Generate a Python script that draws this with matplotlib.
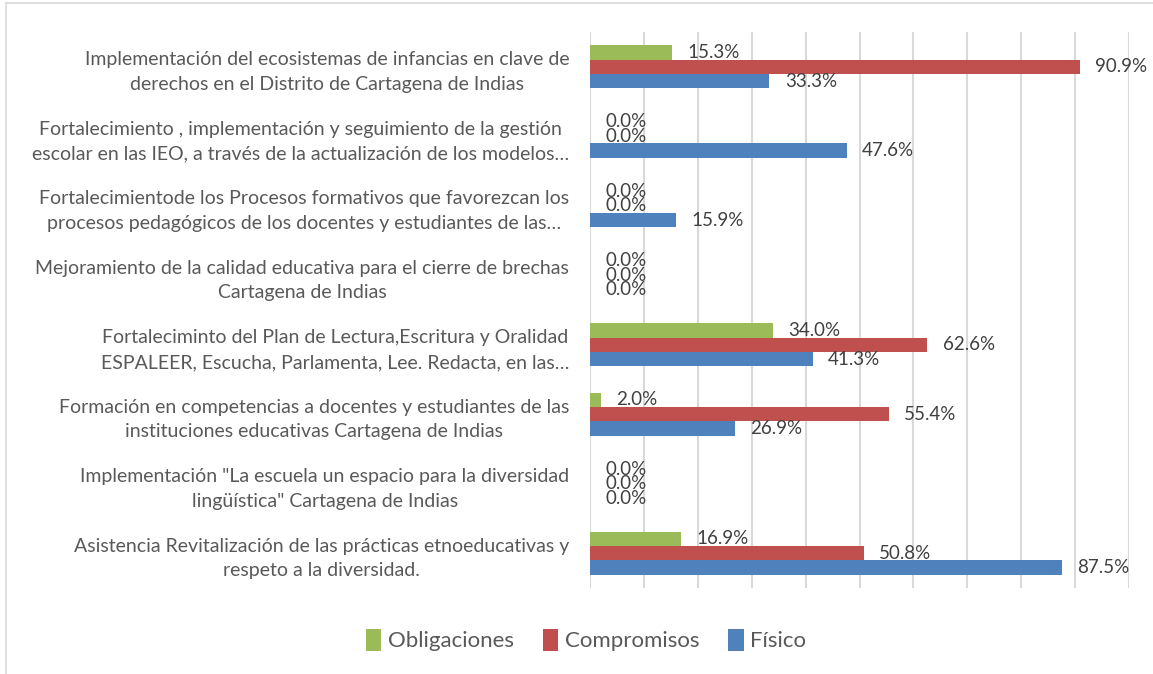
import numpy as np
import matplotlib.pyplot as plt
from matplotlib.patches import Rectangle

plt.rcParams['font.family'] = ['Lato', 'DejaVu Sans']

categories = [
    "Implementación del ecosistemas de infancias en clave de\nderechos en el Distrito de Cartagena de Indias",
    "Fortalecimiento , implementación y seguimiento de la gestión\nescolar en las IEO, a través de la actualización de los modelos…",
    "Fortalecimientode los Procesos formativos que favorezcan los\nprocesos pedagógicos de los docentes y estudiantes de las…",
    "Mejoramiento de la calidad educativa para el cierre de brechas\nCartagena de Indias",
    "Fortalecimînto del Plan de Lectura,Escritura y Oralidad\nESPALEER, Escucha, Parlamenta, Lee. Redacta, en las…".replace("î", "i"),
    "Formación en competencias a docentes y estudiantes de las\ninstituciones educativas Cartagena de Indias",
    "Implementación \"La escuela un espacio para la diversidad\nlingüística\" Cartagena de Indias",
    "Asistencia Revitalización de las prácticas etnoeducativas y\nrespeto a la diversidad.",
]
obligaciones = [0.153, 0.0, 0.0, 0.0, 0.340, 0.020, 0.0, 0.169]
compromisos = [0.909, 0.0, 0.0, 0.0, 0.626, 0.554, 0.0, 0.508]
fisico = [0.333, 0.476, 0.159, 0.0, 0.413, 0.269, 0.0, 0.875]

series = [
    ("Obligaciones", obligaciones, "#9BBB59"),
    ("Compromisos", compromisos, "#C0504D"),
    ("Físico", fisico, "#4F81BD"),
]

fig = plt.figure(figsize=(11.53, 6.74), dpi=100)
ax = fig.add_axes([590 / 1153, 1 - 588 / 674, 539 / 1153, 556 / 674])

# light outer frame of the chart area
fig.patches.append(Rectangle((6 / 1153, -0.05), 1.2, 1 - 3 / 674 + 0.05,
                             transform=fig.transFigure, fill=False,
                             edgecolor="#D9D9D9", linewidth=1.2))

y = np.arange(len(categories))
h = 0.208
offsets = [-h, 0, h]
for (name, vals, color), off in zip(series, offsets):
    bars = ax.barh(y + off, vals, height=h, color=color, label=name)
    for b, v in zip(bars, vals):
        ax.annotate(f"{v * 100:.1f}%", (b.get_width(), b.get_y() + b.get_height() / 2),
                    xytext=(11, 0), textcoords="offset points",
                    va="center", ha="left", fontsize=13.5, color="#404040")

ax.set_xlim(0, 1.0)
ax.set_ylim(len(categories) - 0.5, -0.5)
ax.set_xticks(np.arange(0, 1.01, 0.1))
ax.set_xticklabels([])
ax.set_yticks(y)
ax.set_yticklabels(categories, fontsize=14, color="#595959",
                   multialignment="center", linespacing=1.55)
ax.tick_params(axis="both", length=0)
ax.tick_params(axis="y", pad=15)
ax.grid(axis="x", color="#D9D9D9", linewidth=1.5)
ax.set_axisbelow(True)
for s in ax.spines.values():
    s.set_visible(False)

leg = fig.legend(loc="center", bbox_to_anchor=(586 / 1153, 1 - 640 / 674), ncol=3,
                 frameon=False, fontsize=16, handlelength=0.7, handleheight=1.2,
                 handletextpad=0.3, columnspacing=1.3)
for t in leg.get_texts():
    t.set_color("#595959")

fig.savefig("out.png", dpi=100)
